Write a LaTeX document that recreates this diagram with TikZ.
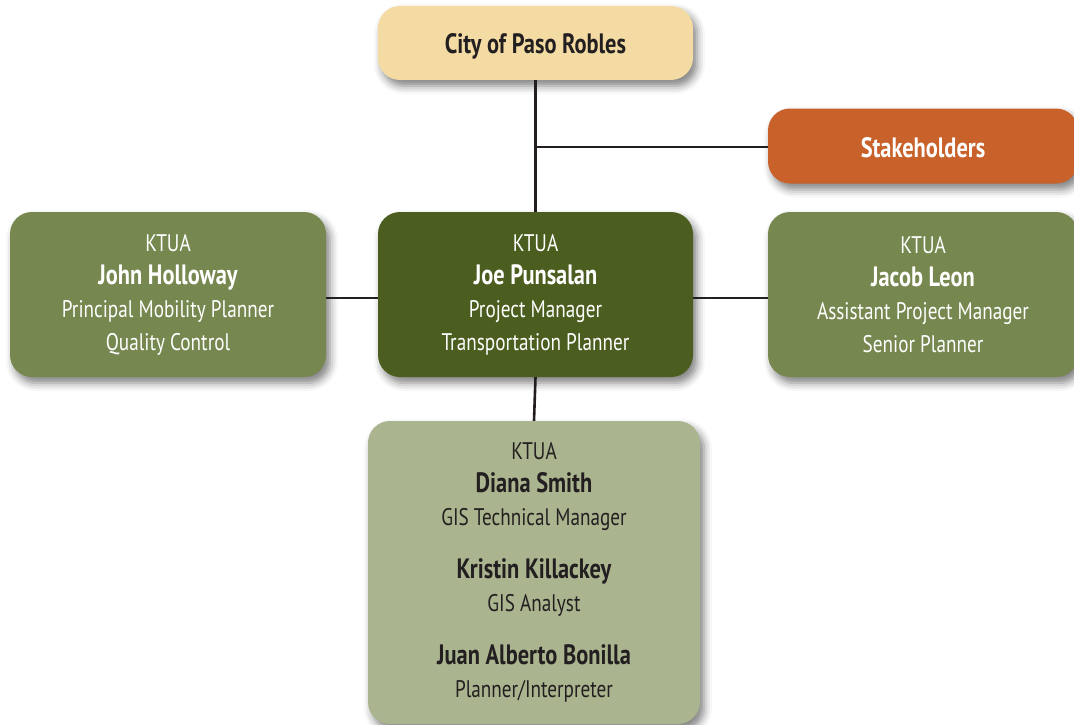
\documentclass[tikz,border=0pt]{standalone}
\usepackage{fontspec}
\setmainfont{PT Sans}[FakeStretch=0.8]
\usetikzlibrary{shadows.blur}
\definecolor{cityc}{HTML}{F3DBA3}
\definecolor{stakec}{HTML}{C8622A}
\definecolor{midc}{HTML}{76884F}
\definecolor{darkc}{HTML}{4B5E1F}
\definecolor{lightc}{HTML}{AAB48E}
\definecolor{inkc}{HTML}{231F20}
\newcommand{\nm}[1]{{\fontsize{28}{33}\selectfont\bfseries #1}}
\begin{document}
\begin{tikzpicture}[x=1pt,y=-1pt,
  box/.style={rectangle, rounded corners=22pt, align=center, inner sep=0pt,
    blur shadow={shadow xshift=4pt, shadow yshift=-6pt, shadow blur radius=8pt, shadow opacity=50}},
  small/.style={font=\fontsize{24}{33}\selectfont},
  big/.style={font=\fontsize{28}{33}\selectfont\bfseries},
  conn/.style={line width=2.6pt, draw=inkc}]
\useasboundingbox (0,0) rectangle (1074,725);
\node[box, fill=cityc, text=inkc, minimum width=315pt, minimum height=74pt, big] (city) at (535.5,43) {\raisebox{-11pt}[0pt][0pt]{City of Paso Robles}};
\node[box, fill=stakec, text=white, minimum width=310pt, minimum height=75pt, big] (stake) at (923,146) {\raisebox{-11pt}[0pt][0pt]{Stakeholders}};
\node[box, fill=midc, text=white, minimum width=316pt, minimum height=165pt, small] (john) at (168,294.5)
  {KTUA\\\nm{John Holloway}\\Principal Mobility Planner\\Quality Control};
\node[box, fill=darkc, text=white, minimum width=315pt, minimum height=165pt, small] (joe) at (535.5,294.5)
  {KTUA\\\nm{Joe Punsalan}\\Project Manager\\Transportation Planner};
\node[box, fill=midc, text=white, minimum width=310pt, minimum height=165pt, small] (jacob) at (923,294.5)
  {KTUA\\\nm{Jacob Leon}\\Assistant Project Manager\\Senior Planner};
\node[box, fill=lightc, text=inkc, minimum width=332pt, minimum height=303pt, small] (team) at (534,572.5)
  {KTUA\\\nm{Diana Smith}\\GIS Technical Manager\\[20pt]
   \nm{Kristin Killackey}\\GIS Analyst\\[20pt]
   \nm{Juan Alberto Bonilla}\\Planner/Interpreter};
\coordinate (j) at (536,147);
\draw[conn] (city.south) -- (joe.north);
\draw[conn] (j) -- (stake.west |- j);
\draw[conn] (john.east |- 0,298) -- (joe.west |- 0,298);
\draw[conn] (joe.east |- 0,298) -- (jacob.west |- 0,298);
\draw[conn] (joe.south) -- (team.north);
\end{tikzpicture}
\end{document}
